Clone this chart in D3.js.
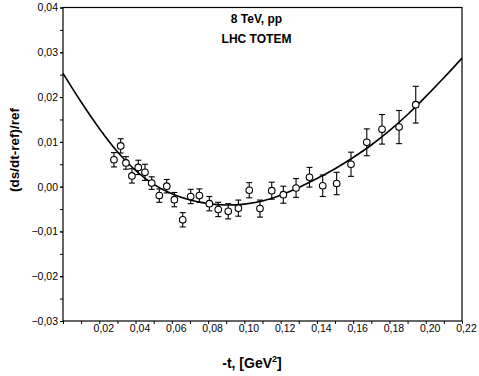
<!DOCTYPE html>
<html>
<head>
<meta charset="utf-8">
<script src="https://cdn.jsdelivr.net/npm/d3@7"></script>
<style>
  body { margin: 0; background: #fff; }
  svg { display: block; font-family: "Liberation Sans", Arial, sans-serif; }
</style>
</head>
<body>
<div id="chart"></div>
<script>
// measured points: -t [GeV^2], (ds/dt-ref)/ref, error
const tValues = [0.0281, 0.0318, 0.0347, 0.0380, 0.0415, 0.0452, 0.0489, 0.0531, 0.0572, 0.0614,
    0.0660, 0.0704, 0.0752, 0.0807, 0.0856, 0.0911, 0.0967, 0.1027, 0.1086, 0.1151,
    0.1215, 0.1285, 0.1359, 0.1432, 0.1509, 0.1588, 0.1675, 0.1759, 0.1853, 0.1945];
const ratioValues = [0.0060, 0.0091, 0.0053, 0.0024, 0.0043, 0.0032, 0.0008, -0.0020, 0.0001, -0.0029,
    -0.0074, -0.0022, -0.0020, -0.0038, -0.0051, -0.0055, -0.0048, -0.0008, -0.0049, -0.0009,
    -0.0018, -0.0003, 0.0021, 0.0002, 0.0007, 0.0050, 0.0099, 0.0128, 0.0133, 0.0183];
const errValues = [0.0016, 0.0016, 0.0014, 0.0016, 0.0016, 0.0018, 0.0014, 0.0015, 0.0015, 0.0016,
    0.0016, 0.0016, 0.0015, 0.0016, 0.0016, 0.0017, 0.0018, 0.0017, 0.0019, 0.0019,
    0.0019, 0.0021, 0.0022, 0.0024, 0.0025, 0.0027, 0.0030, 0.0033, 0.0037, 0.0041];

// fit curve
const curveT = [0, 0.01, 0.02, 0.03, 0.04, 0.05, 0.06, 0.07, 0.08, 0.09, 0.10, 0.11,
    0.12, 0.13, 0.14, 0.15, 0.16, 0.17, 0.18, 0.19, 0.20, 0.21, 0.22];
const curveValues = [0.0253, 0.0189, 0.0130, 0.0078, 0.0036, 0.0005, -0.0016, -0.0030, -0.0038, -0.0041, -0.0039, -0.0032,
    -0.0019, -0.0002, 0.0018, 0.0040, 0.0065, 0.0093, 0.0125, 0.0161, 0.0201, 0.0243, 0.0287];

const xTicks = [0.02, 0.04, 0.06, 0.08, 0.10, 0.12, 0.14, 0.16, 0.18, 0.20, 0.22];
const yTicks = [-0.03, -0.02, -0.01, 0.00, 0.01, 0.02, 0.03, 0.04];
const titleLines = ["8 TeV, pp", "LHC TOTEM"];

const svgWidth = 479, svgHeight = 376;
const margin = { top: 7.5, right: 17, bottom: 55, left: 63 };
const width = svgWidth - margin.left - margin.right;
const height = svgHeight - margin.top - margin.bottom;

const fmt = v => d3.format(".2f")(v).replace(".", ",").replace("-0,00", "0,00");

const svg = d3.select("#chart").append("svg")
    .attr("width", svgWidth).attr("height", svgHeight);
const g = svg.append("g").attr("transform", `translate(${margin.left},${margin.top})`);

const x = d3.scaleLinear().domain([0, 0.22]).range([0, width]);
const y = d3.scaleLinear().domain([-0.03, 0.04]).range([height, 0]);

// frame
g.append("rect")
    .attr("width", width).attr("height", height)
    .attr("fill", "none").attr("stroke", "#000").attr("stroke-width", 1.2);

// x axis
const xAxis = g.append("g").attr("transform", `translate(0,${height})`)
    .call(d3.axisBottom(x).tickValues(d3.range(0, 0.2201, 0.01)).tickSize(3).tickFormat(""));
const xLab = g.append("g").attr("transform", `translate(0,${height})`)
    .call(d3.axisBottom(x).tickValues(xTicks).tickSize(0).tickPadding(4).tickFormat(fmt));
xLab.selectAll("text").attr("dx", 4);
// y axis
const yAxis = g.append("g")
    .call(d3.axisLeft(y).tickValues(d3.range(-0.03, 0.0401, 0.005)).tickSize(3).tickFormat(""));
const yLab = g.append("g")
    .call(d3.axisLeft(y).tickValues(yTicks).tickSize(3).tickPadding(2).tickFormat(fmt));

[xAxis, xLab, yAxis, yLab].forEach(a => {
    a.select(".domain").remove();
    a.selectAll("line").attr("stroke", "#000");
    a.selectAll("text").attr("fill", "#000").style("font-size", "10.5px");
});

// fit curve
g.append("path")
    .datum(curveT.map((t, i) => [t, curveValues[i]]))
    .attr("d", d3.line().x(d => x(d[0])).y(d => y(d[1])).curve(d3.curveNatural))
    .attr("fill", "none").attr("stroke", "#000").attr("stroke-width", 1.6);

// error bars
const pts = tValues.map((t, i) => ({ t: t, v: ratioValues[i], e: errValues[i] }));
const bars = g.selectAll(".err").data(pts).enter().append("g").attr("class", "err")
    .attr("stroke", "#000").attr("stroke-width", 1.1);
bars.append("line")
    .attr("x1", d => x(d.t)).attr("x2", d => x(d.t))
    .attr("y1", d => y(d.v + d.e)).attr("y2", d => y(d.v - d.e));
bars.append("line")
    .attr("x1", d => x(d.t) - 3).attr("x2", d => x(d.t) + 3)
    .attr("y1", d => y(d.v + d.e)).attr("y2", d => y(d.v + d.e));
bars.append("line")
    .attr("x1", d => x(d.t) - 3).attr("x2", d => x(d.t) + 3)
    .attr("y1", d => y(d.v - d.e)).attr("y2", d => y(d.v - d.e));

g.selectAll(".pt").data(pts).enter().append("circle")
    .attr("class", "pt")
    .attr("cx", d => x(d.t)).attr("cy", d => y(d.v))
    .attr("r", 3.3)
    .attr("fill", "#fff").attr("stroke", "#000").attr("stroke-width", 1.1);

// title
g.selectAll(".title").data(titleLines).enter().append("text")
    .attr("class", "title")
    .attr("x", width / 2 - 6)
    .attr("y", (d, i) => 15 + i * 20)
    .attr("text-anchor", "middle")
    .style("font-size", "12px").style("font-weight", "bold")
    .text(d => d);

// axis titles
const xt = svg.append("text")
    .attr("x", 252).attr("y", 368)
    .attr("text-anchor", "middle")
    .style("font-size", "14px").style("font-weight", "bold");
xt.append("tspan").text("-t, [GeV");
xt.append("tspan").attr("dy", -6).style("font-size", "9px").text("2");
xt.append("tspan").attr("dy", 6).text("]");

svg.append("text")
    .attr("transform", "rotate(-90)")
    .attr("x", -150).attr("y", 19)
    .attr("text-anchor", "middle")
    .style("font-size", "13.5px").style("font-weight", "bold")
    .text("(ds/dt-ref)/ref");
</script>
</body>
</html>
